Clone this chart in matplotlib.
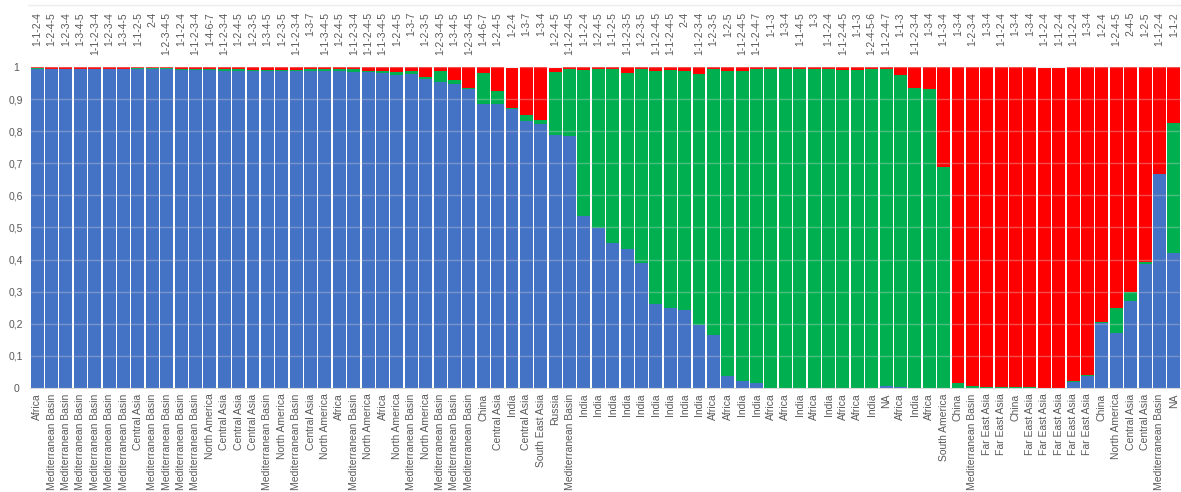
import numpy as np
import matplotlib.pyplot as plt
import matplotlib.transforms as mtransforms
from matplotlib.lines import Line2D

# bottom labels (region) and top labels (code) for each bar
regions = ['Africa', 'Mediterranean Basin', 'Mediterranean Basin', 'Mediterranean Basin',
           'Mediterranean Basin', 'Mediterranean Basin', 'Mediterranean Basin', 'Central Asia',
           'Mediterranean Basin', 'Mediterranean Basin', 'Mediterranean Basin', 'Mediterranean Basin',
           'North America', 'Central Asia', 'Central Asia', 'Central Asia',
           'Mediterranean Basin', 'North America', 'Mediterranean Basin', 'Central Asia',
           'North America', 'Africa', 'Mediterranean Basin', 'North America',
           'Africa', 'North America', 'Mediterranean Basin', 'North America',
           'Mediterranean Basin', 'Mediterranean Basin', 'Mediterranean Basin', 'China',
           'Central Asia', 'India', 'Central Asia', 'South East Asia',
           'Russia', 'Mediterranean Basin', 'India', 'India',
           'India', 'India', 'India', 'India',
           'India', 'India', 'India', 'Africa',
           'Africa', 'India', 'India', 'Africa',
           'Africa', 'India', 'Africa', 'India',
           'Africa', 'Africa', 'India', 'NA',
           'Africa', 'India', 'Africa', 'South America',
           'China', 'Mediterranean Basin', 'Far East Asia', 'Far East Asia',
           'China', 'Far East Asia', 'Far East Asia', 'Far East Asia',
           'Far East Asia', 'Far East Asia', 'China', 'North America',
           'Central Asia', 'Central Asia', 'Mediterranean Basin', 'NA']

codes = ['1-1-2-4', '1-2-4-5', '1-2-3-4', '1-3-4-5', '1-1-2-3-4', '1-2-3-4', '1-3-4-5', '1-1-2-5',
         '2-4', '1-2-3-4-5', '1-1-2-4', '1-1-2-3-4', '1-4-6-7', '1-1-2-3-4', '1-2-4-5', '1-2-3-5',
         '1-3-4-5', '1-2-3-5', '1-1-2-3-4', '1-3-7', '1-1-3-4-5', '1-2-4-5', '1-1-2-3-4', '1-1-2-4-5',
         '1-1-3-4-5', '1-2-4-5', '1-3-7', '1-2-3-5', '1-2-3-4-5', '1-3-4-5', '1-2-3-4-5', '1-4-6-7',
         '1-2-4-5', '1-2-4', '1-3-7', '1-3-4', '1-2-4-5', '1-1-2-4-5', '1-1-2-4', '1-2-4-5',
         '1-1-2-5', '1-1-2-3-5', '1-2-3-5', '1-1-2-4-5', '1-1-2-4-5', '2-4', '1-1-2-3-4', '1-2-3-5',
         '1-2-5', '1-1-2-4-5', '1-1-2-4-7', '1-1-3', '1-3-4', '1-1-4-5', '1-3', '1-1-2-4',
         '1-1-2-4-5', '1-1-3', '1-2-4-5-6', '1-1-2-4-7', '1-1-3', '1-1-2-3-4', '1-3-4', '1-1-3-4',
         '1-3-4', '1-2-3-4', '1-3-4', '1-1-2-4', '1-3-4', '1-3-4', '1-1-2-4', '1-1-2-4',
         '1-1-2-4', '1-3-4', '1-2-4', '1-2-4-5', '2-4-5', '1-2-5', '1-1-2-4', '1-1-2']

blue = [0.994, 0.993, 0.993, 0.993, 0.993, 0.993, 0.993, 0.994,
        0.994, 0.993, 0.992, 0.992, 0.991, 0.989, 0.989, 0.989,
        0.989, 0.989, 0.989, 0.989, 0.989, 0.986, 0.985, 0.983,
        0.981, 0.976, 0.978, 0.962, 0.954, 0.946, 0.930, 0.886,
        0.886, 0.868, 0.831, 0.822, 0.787, 0.784, 0.537, 0.500,
        0.453, 0.434, 0.390, 0.262, 0.250, 0.244, 0.197, 0.166,
        0.037, 0.022, 0.016, 0.000, 0.001, 0.000, 0.000, 0.000,
        0.000, 0.001, 0.001, 0.006, 0.002, 0.001, 0.001, 0.000,
        0.000, 0.000, 0.000, 0.001, 0.001, 0.000, 0.000, 0.000,
        0.018, 0.036, 0.204, 0.171, 0.272, 0.387, 0.666, 0.420]

green = [0.002, 0.002, 0.002, 0.002, 0.002, 0.002, 0.002, 0.002,
         0.003, 0.003, 0.002, 0.002, 0.002, 0.004, 0.004, 0.003,
         0.003, 0.003, 0.003, 0.004, 0.004, 0.007, 0.009, 0.004,
         0.005, 0.008, 0.009, 0.008, 0.035, 0.015, 0.006, 0.096,
         0.040, 0.004, 0.019, 0.014, 0.196, 0.210, 0.455, 0.494,
         0.541, 0.546, 0.604, 0.724, 0.742, 0.744, 0.780, 0.828,
         0.952, 0.967, 0.979, 0.995, 0.994, 0.994, 0.994, 0.993,
         0.992, 0.991, 0.992, 0.988, 0.973, 0.933, 0.930, 0.688,
         0.015, 0.006, 0.003, 0.002, 0.001, 0.002, 0.000, 0.001,
         0.004, 0.006, 0.003, 0.079, 0.028, 0.007, 0.001, 0.405]

red = [0.004, 0.005, 0.005, 0.005, 0.005, 0.005, 0.005, 0.004,
       0.003, 0.004, 0.006, 0.006, 0.007, 0.007, 0.007, 0.008,
       0.008, 0.008, 0.008, 0.007, 0.007, 0.007, 0.006, 0.013,
       0.014, 0.016, 0.013, 0.030, 0.011, 0.039, 0.064, 0.018,
       0.074, 0.124, 0.150, 0.164, 0.013, 0.006, 0.008, 0.006,
       0.006, 0.020, 0.006, 0.014, 0.008, 0.012, 0.023, 0.006,
       0.011, 0.011, 0.005, 0.005, 0.005, 0.006, 0.006, 0.007,
       0.008, 0.008, 0.007, 0.006, 0.025, 0.066, 0.069, 0.312,
       0.985, 0.994, 0.997, 0.997, 0.998, 0.998, 0.996, 0.995,
       0.978, 0.958, 0.793, 0.750, 0.700, 0.606, 0.333, 0.175]

plt.rcParams['font.family'] = ['Liberation Sans', 'DejaVu Sans']
txt = '#595959'
fs = 7.5

W, H = 1181, 492
fig = plt.figure(figsize=(W / 100, H / 100), dpi=100)
ax = fig.add_axes([30 / W, 104 / H, 1151 / W, 321 / H])

x = np.arange(len(regions))
b = np.array(blue)
g = np.array(green)
r = np.array(red)
ax.bar(x, b, width=0.9, color='#4472C4', zorder=2)
ax.bar(x, g, bottom=b, width=0.9, color='#00B050', zorder=2)
ax.bar(x, r, bottom=b + g, width=0.9, color='#FF0000', zorder=2)

ax.set_xlim(-0.5, len(regions) - 0.5)
ax.set_ylim(0, 1)
yt = np.round(np.arange(0, 1.01, 0.1), 1)
ax.set_yticks(yt)
ax.set_yticklabels([('%g' % v).replace('.', ',') for v in yt], ha='center', fontsize=fs, color=txt)
ax.tick_params(axis='y', length=0, pad=10)

ax.set_xticks(x)
ax.set_xticklabels(regions, rotation=90, fontsize=fs, color=txt)
ax.tick_params(axis='x', length=0, pad=4)

for s in ['top', 'right', 'left']:
    ax.spines[s].set_visible(False)
ax.spines['bottom'].set_color('#D9D9D9')

# faint gridlines that show through the bars
for v in yt[1:]:
    ax.axhline(v, color='#D9D9D9', lw=1, alpha=0.35, zorder=3)

# codes along the top, top-aligned
trans = mtransforms.blended_transform_factory(ax.transData, ax.transAxes)
for i, c in enumerate(codes):
    ax.text(i, 1.171, c, rotation=90, ha='center', va='top', transform=trans,
            fontsize=fs, color=txt)

fig.add_artist(Line2D([28 / W, 1], [1 - 5 / H, 1 - 5 / H], color='#EDEDED', lw=1))

fig.savefig('out.png', dpi=100)
